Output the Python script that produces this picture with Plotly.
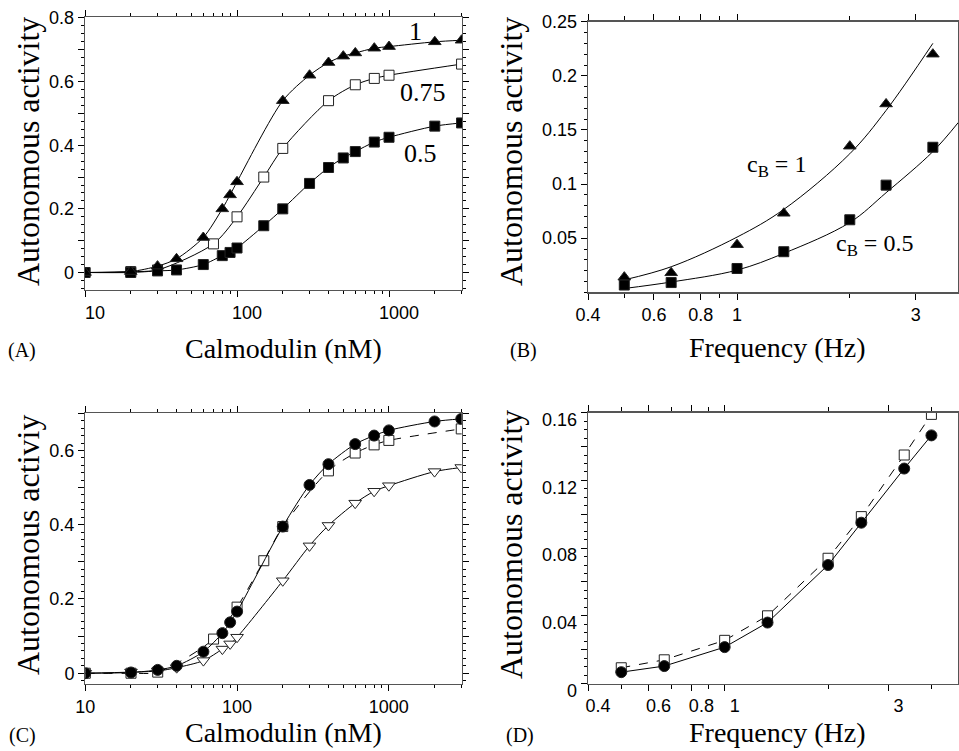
import plotly.graph_objects as go
import math

W, H = 959, 751

# ---------------- Data ----------------
# Panel A: autonomous activity vs calmodulin (nM)
cam_a_cb1 = [10, 20, 30, 40, 60, 80, 90, 100, 200, 300, 400, 500, 600, 800, 1000, 2000, 3000]
act_a_cb1 = [0.0, 0.003, 0.02, 0.043, 0.11, 0.20, 0.244, 0.285, 0.54, 0.62, 0.66, 0.68, 0.69, 0.705, 0.71, 0.725, 0.73]
cam_a_cb075 = [10, 20, 30, 70, 100, 150, 200, 400, 600, 800, 1000, 3000]
act_a_cb075 = [0.0, 0.003, 0.008, 0.09, 0.175, 0.30, 0.39, 0.54, 0.59, 0.61, 0.62, 0.655]
cam_a_cb05 = [10, 20, 30, 40, 60, 80, 90, 100, 150, 200, 300, 400, 500, 600, 800, 1000, 2000, 3000]
act_a_cb05 = [0.0, 0.0, 0.005, 0.008, 0.025, 0.053, 0.063, 0.077, 0.147, 0.20, 0.28, 0.33, 0.36, 0.38, 0.41, 0.425, 0.46, 0.47]

# Panel B: autonomous activity vs frequency (Hz)
freq_b = [0.5, 0.667, 1.0, 1.333, 2.0, 2.5, 3.333]
act_b_cb1 = [0.014, 0.018, 0.044, 0.073, 0.135, 0.174, 0.22]
act_b_cb05 = [0.0067, 0.009, 0.022, 0.0375, 0.067, 0.099, 0.134]
fit_freq_b1 = [0.5, 0.667, 1.0, 1.333, 2.0, 2.5, 3.333]
fit_act_b1 = [0.0115, 0.0236, 0.051, 0.0766, 0.128, 0.168, 0.23]
fit_freq_b05 = [0.5, 0.667, 1.0, 1.333, 2.0, 2.5, 3.333, 3.9]
fit_act_b05 = [0.0035, 0.0095, 0.0205, 0.036, 0.0645, 0.092, 0.13, 0.157]

# Panel C
cam_c_circ = [10, 20, 30, 40, 60, 80, 90, 100, 200, 300, 400, 600, 800, 1000, 2000, 3000]
act_c_circ = [0.0, 0.002, 0.009, 0.02, 0.058, 0.108, 0.137, 0.166, 0.395, 0.507, 0.563, 0.617, 0.64, 0.654, 0.678, 0.685]
cam_c_sq = [10, 20, 30, 70, 100, 150, 200, 400, 600, 800, 1000, 3000]
act_c_sq = [0.0, 0.0, 0.003, 0.092, 0.178, 0.303, 0.395, 0.545, 0.593, 0.615, 0.627, 0.658]
cam_c_tri = [10, 20, 30, 40, 60, 80, 90, 100, 200, 300, 400, 600, 800, 1000, 2000, 3000]
act_c_tri = [0.0, 0.003, 0.006, 0.015, 0.034, 0.065, 0.079, 0.097, 0.249, 0.343, 0.398, 0.458, 0.49, 0.505, 0.543, 0.554]

# Panel D
freq_d = [0.5, 0.667, 1.0, 1.333, 2.0, 2.5, 3.333, 4.0]
act_d_circ = [0.0067, 0.0103, 0.0215, 0.036, 0.070, 0.095, 0.127, 0.1466]
act_d_sq = [0.0093, 0.014, 0.0255, 0.040, 0.074, 0.0986, 0.135, 0.159]

# tick labels
cam_ticks = [10, 100, 1000]
cam_ticktext = ["10", "100", "1000"]
freq_ticks = [0.4, 0.6, 0.8, 1, 3]
freq_ticktext = ["0.4", "0.6", "0.8", "1", "3"]

# ---------------- Helpers ----------------
def px(x):
    return x / W

def py(y):
    return 1 - y / H

SERIF = "Liberation Serif, Times New Roman, serif"
SANS = "Liberation Sans, Arial, sans-serif"

def frac(v0, v1, step):
    out = []
    n = int(round((v1 - v0) / step))
    for i in range(n + 1):
        out.append(round(v0 + i * step, 6))
    return out

fig = go.Figure()

def add(x, y, xa, ya, symbol, filled=True, dash="solid", size=10, mode="lines+markers", shape="spline"):
    fig.add_trace(go.Scatter(
        x=x, y=y, xaxis=xa, yaxis=ya, mode=mode,
        line=dict(color="black", width=1, dash=dash, shape=shape, smoothing=0.8),
        marker=dict(symbol=symbol, size=size,
                    color="black" if filled else "white",
                    line=dict(color="#222", width=1)),
        showlegend=False, hoverinfo="skip"))

# A
add(cam_a_cb075, act_a_cb075, "x", "y", "square", filled=False, size=10)
add(cam_a_cb05, act_a_cb05, "x", "y", "square", size=10)
add(cam_a_cb1, act_a_cb1, "x", "y", "triangle-up", size=11)

# B
fig.add_trace(go.Scatter(x=fit_freq_b1, y=fit_act_b1, xaxis="x2", yaxis="y2", mode="lines",
                         line=dict(color="black", width=1, shape="spline"), showlegend=False))
fig.add_trace(go.Scatter(x=fit_freq_b05, y=fit_act_b05, xaxis="x2", yaxis="y2", mode="lines",
                         line=dict(color="black", width=1, shape="spline"), showlegend=False))
add(freq_b, act_b_cb1, "x2", "y2", "triangle-up", size=11, mode="markers")
add(freq_b, act_b_cb05, "x2", "y2", "square", size=10, mode="markers")

# C
add(cam_c_tri, act_c_tri, "x3", "y3", "triangle-down", filled=False, size=11)
add(cam_c_sq, act_c_sq, "x3", "y3", "square", filled=False, dash="dash", size=10)
add(cam_c_circ, act_c_circ, "x3", "y3", "circle", size=11)

# D
add(freq_d, act_d_sq, "x4", "y4", "square", filled=False, dash="dash", size=10, shape="linear")
add(freq_d, act_d_circ, "x4", "y4", "circle", size=11, shape="linear")

# ---------------- Axes ----------------
def axis(**kw):
    d = dict(showline=True, linecolor="#555", linewidth=1.3, mirror="ticks",
             ticks="outside", tickcolor="black", tickwidth=1, ticklen=6,
             showgrid=False, zeroline=False, automargin=False,
             tickfont=dict(family=SANS, size=18, color="black"))
    d.update(kw)
    return d

def log_minor(length):
    return dict(ticks="outside", dtick="D1", ticklen=length, tickwidth=1, tickcolor="black", showgrid=False)

def lin_minor(step, length):
    return dict(ticks="outside", tick0=0, dtick=step, ticklen=length, tickwidth=1, tickcolor="black", showgrid=False)

fig.update_layout(
    template="none",
    xaxis=axis(type="log", range=[1, math.log10(3020)], domain=[px(85), px(462)], anchor="y",
               tickmode="array", tickvals=cam_ticks, ticktext=cam_ticktext, ticklabelshift=10,
               minor=log_minor(3)),
    yaxis=axis(range=[-0.055, 0.803], domain=[py(290), py(17)], anchor="x",
               tickmode="array", tickvals=frac(0, 0.8, 0.1),
               ticktext=["0", "", "0.2", "", "0.4", "", "0.6", "", "0.8"],
               minor=lin_minor(0.025, 3)),
    xaxis2=axis(type="log", range=[math.log10(0.4), math.log10(3.89)], domain=[px(588), px(958)], anchor="y2",
                tickmode="array", tickvals=freq_ticks, ticktext=freq_ticktext,
                minor=log_minor(4)),
    yaxis2=axis(range=[0, 0.25], domain=[py(292.3), py(21.7)], anchor="x2",
                tickmode="array", tickvals=[0.05, 0.1, 0.15, 0.2, 0.25],
                ticktext=["0.05", "0.1", "0.15", "0.2", "0.25"],
                minor=lin_minor(0.01, 3)),
    xaxis3=axis(type="log", range=[1, math.log10(3020)], domain=[px(85.3), px(461.7)], anchor="y3",
                tickmode="array", tickvals=cam_ticks, ticktext=cam_ticktext,
                minor=log_minor(3)),
    yaxis3=axis(range=[-0.029, 0.70], domain=[py(684), py(413.3)], anchor="x3",
                tickmode="array", tickvals=frac(0, 0.7, 0.1),
                ticktext=["0", "", "0.2", "", "0.4", "", "0.6", ""],
                minor=lin_minor(0.02, 3)),
    xaxis4=axis(type="log", range=[math.log10(0.4), math.log10(4.78)], domain=[px(588), px(958)], anchor="y4",
                tickmode="array", tickvals=freq_ticks, ticktext=freq_ticktext, ticklabelshift=10,
                minor=log_minor(4)),
    yaxis4=axis(range=[0, 0.16], domain=[py(683.5), py(412.7)], anchor="x4",
                tickmode="array", tickvals=frac(0, 0.16, 0.02),
                ticktext=["0", "", "0.04", "", "0.08", "", "0.12", "", "0.16"], ticklabelshift=7,
                minor=lin_minor(0.005, 3)),
)

# ---------------- Text ----------------
def ann(text, x, y, size, angle=0, family=SERIF):
    fig.add_annotation(text=text, x=px(x), y=py(y), xref="paper", yref="paper",
                       showarrow=False, textangle=angle, xanchor="center", yanchor="middle",
                       font=dict(family=family, size=size, color="black"))

ann("Autonomous activity", 28, 152, 32, angle=-90)
ann("Calmodulin (nM)", 283, 348, 28)
ann("(A)", 22, 351, 20)
ann("1", 415, 32, 26)
ann("0.75", 423, 92, 26)
ann("0.5", 420, 153, 26)

ann("Autonomous activity", 511, 152, 32, angle=-90)
ann("Frequency (Hz)", 777, 347, 28)
ann("(B)", 523, 351, 20)
ann("c<sub>B</sub> = 1", 776, 166, 24)
ann("c<sub>B</sub> = 0.5", 874, 245, 24)

ann("Autonomous activiy", 28, 545, 32, angle=-90)
ann("Calmodulin (nM)", 283, 732, 28)
ann("(C)", 22, 735, 20)

ann("Autonomous activity", 511, 545, 32, angle=-90)
ann("Frequency (Hz)", 777, 732, 28)
ann("(D)", 520, 735, 20)

fig.update_layout(width=W, height=H, margin=dict(l=0, r=0, t=0, b=0, pad=0),
                  paper_bgcolor="white", plot_bgcolor="rgba(0,0,0,0)", showlegend=False,
                  hovermode=False)

fig.write_html("out.html", config={"displayModeBar": False, "staticPlot": True},
               post_script="document.body.style.margin='0';document.body.style.overflow='hidden';")
